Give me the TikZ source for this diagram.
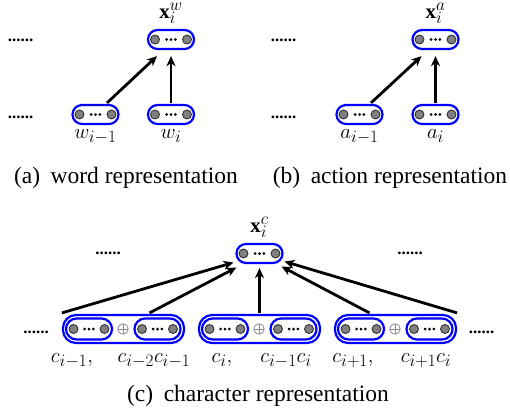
\documentclass[tikz,border=0pt]{standalone}
\usepackage{fontspec}
\setmainfont{Liberation Serif}
\usetikzlibrary{arrows.meta,calc}
\DeclareMathSizes{20.74}{20.74}{17.28}{12}
\newcommand\vecunit[4][vecbox]{%
  \node[#1] (#2) at (#3) {};
  \node[unitc] (#2l) at ($(#2.center)+(-#4,0)$) {};
  \node[unitc] (#2r) at ($(#2.center)+(#4,0)$) {};
  \foreach \d in {-4.4,0,4.4} \fill ($(#2.center)+(\d,0)$) circle (1.5pt);
}
\begin{document}
\begin{tikzpicture}[x=1pt,y=-1pt,
  vecbox/.style={draw=blue, line width=2.2pt, rounded corners=9.5pt, minimum width=46pt, minimum height=19pt, inner sep=0pt},
  invec/.style={vecbox, minimum width=46pt, minimum height=21pt, rounded corners=10.5pt},
  outvec/.style={draw=blue, line width=2.2pt, rounded corners=13pt, minimum width=121pt, minimum height=28pt, inner sep=0pt},
  unitc/.style={circle, fill=black!50, draw=black!85, line width=0.8pt, minimum size=9pt, inner sep=0pt},
  oplusnode/.style={circle, draw=black!45, line width=0.8pt, minimum size=10.5pt, inner sep=0pt,
    path picture={\draw[black!45,line width=0.8pt] (path picture bounding box.north) -- (path picture bounding box.south) (path picture bounding box.west) -- (path picture bounding box.east);}},
  arr/.style={line width=2.8pt, -{Stealth[length=10pt,width=9pt,inset=3pt]}},
  lbl/.style={font=\fontsize{20.74}{24}\selectfont, inner sep=0pt, anchor=base},
  captext/.style={font=\fontsize{23.5}{28}\selectfont, inner sep=0pt, anchor=base},
  ell/.style={font=\fontsize{17}{20}\selectfont\bfseries, inner sep=0pt, anchor=base},
]
\path[fill=white] (0,0) rectangle (510,416);
\useasboundingbox (0,0) rectangle (510,416);

% (a) word representation
\vecunit{aw}{171,39.5}{16}
\vecunit{aw1}{95.5,114.5}{16}
\vecunit{aw0}{171,114.5}{16}
\node[lbl] (lxw) at (171,18.5) {$\mathbf{x}_i^w$};
\node[lbl] (lw1) at (95.5,138) {$w_{i-1}$};
\node[lbl] (lw0) at (171,138) {$w_i$};
\node[ell] (da1) at (20.5,41.5) {......};
\node[ell] (da2) at (20.5,118.5) {......};
\draw[arr] ($(aw1.north)+(11.5,-1)$) -- ($(aw.south)+(-14,6)$);
\draw[arr] ($(aw0.north)+(0,-1)$) -- ($(aw.south)+(0,6)$);
\node[captext] (capa) at (126,183) {(a)\hspace{0.45em}word representation};

% (b) action representation
\vecunit{bx}{435.5,39.5}{16}
\vecunit{ba1}{359.5,114.5}{16}
\vecunit{ba0}{435.5,114.5}{16}
\node[lbl] (lxa) at (435.5,18.5) {$\mathbf{x}_i^a$};
\node[lbl] (la1) at (359.5,138) {$a_{i-1}$};
\node[lbl] (la0) at (435.5,138) {$a_i$};
\node[ell] (db1) at (283.5,41.5) {......};
\node[ell] (db2) at (283.5,118.5) {......};
\draw[arr] ($(ba1.north)+(11.5,-1)$) -- ($(bx.south)+(-14,6)$);
\draw[arr] ($(ba0.north)+(0,-1)$) -- ($(bx.south)+(0,6)$);
\node[captext] (capb) at (390,183) {(b)\hspace{0.45em}action representation};

% (c) character representation
\vecunit{cx}{259.5,253.5}{16}
\node[lbl] (lxc) at (259.5,232) {$\mathbf{x}_i^c$};
\node[outvec] (g1) at (123.5,329) {};
\vecunit[invec]{g1a}{89,329}{15.5}
\vecunit[invec]{g1b}{157.5,329}{15.5}
\node[oplusnode] (g1p) at (123,329) {};
\node[outvec] (g2) at (259.5,329) {};
\vecunit[invec]{g2a}{225,329}{15.5}
\vecunit[invec]{g2b}{293.5,329}{15.5}
\node[oplusnode] (g2p) at (259,329) {};
\node[outvec] (g3) at (395.5,329) {};
\vecunit[invec]{g3a}{361,329}{15.5}
\vecunit[invec]{g3b}{429.5,329}{15.5}
\node[oplusnode] (g3p) at (395,329) {};
\node[ell] (dc1) at (36,333.5) {......};
\node[ell] (dc2) at (108,254.5) {......};
\node[ell] (dc3) at (410,254.5) {......};
\node[ell] (dc4) at (481.5,333.5) {......};
\node[lbl] (lc1) at (72,362) {$c_{i-1},$};
\node[lbl] (lc2) at (154,362) {$c_{i-2}c_{i-1}$};
\node[lbl] (lc3) at (222,362) {$c_{i},$};
\node[lbl] (lc4) at (286,362) {$c_{i-1}c_{i}$};
\node[lbl] (lc5) at (353,362) {$c_{i+1},$};
\node[lbl] (lc6) at (426,362) {$c_{i+1}c_{i}$};
\draw[arr] ($(g1.north west)+(0,-1)$) -- ($(cx.center)+(-26,9)$);
\draw[arr] ($(g1.north)+(26,-1)$) -- ($(cx.center)+(-23,14)$);
\draw[arr] ($(g2.north)+(0,-1)$) -- ($(cx.south)+(0,4)$);
\draw[arr] ($(g3.north)+(-26,-1)$) -- ($(cx.center)+(22,13)$);
\draw[arr] ($(g3.north east)+(0,-1)$) -- ($(cx.center)+(25,8)$);
\node[captext] (capc) at (258,401) {(c)\hspace{0.45em}character representation};
\end{tikzpicture}
\end{document}
